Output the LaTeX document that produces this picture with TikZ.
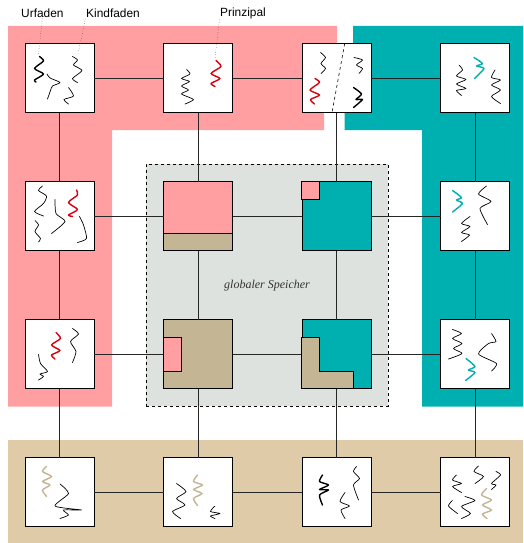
\documentclass[tikz,border=0pt]{standalone}
\usepackage{fontspec}
\setmainfont{Liberation Sans}
\newfontfamily\speicherfont{Liberation Serif}
\usetikzlibrary{matrix}

\definecolor{rosa}{HTML}{FF9FA2}
\definecolor{tuerkis}{HTML}{00B0B0}
\definecolor{sand}{HTML}{DFCBA7}
\definecolor{braun}{HTML}{C4B595}
\definecolor{hellgrau}{HTML}{DEE2DE}
\definecolor{rot}{HTML}{D8000F}

\tikzset{
  kasten/.style={draw,line width=0.9pt,rectangle,fill=white,minimum size=69pt,inner sep=0pt,outer sep=0pt},
  verbindung/.style={draw,line width=0.9pt,black!85},
  zeiger/.style={draw,dotted,line width=0.5pt,black!70},
  faden/.style={line width=0.7pt,line join=round,line cap=round},
  urfaden/.style={faden,line width=1.4pt},
  beschriftung/.style={anchor=west,font=\fontsize{11.9}{13}\selectfont,inner sep=0pt}
}
\newcommand{\faden}[2][]{\draw[faden,#1] plot [smooth,tension=.4] coordinates {#2};}

\begin{document}
\begin{tikzpicture}[x=1pt,y=-1pt]

  \useasboundingbox (0,0) rectangle (523,543);

  % Adressraeume
  \fill [rosa] (8,26) -- (337,26) -- (337,43.5) -- (324,112.5) -- (324,130) -- (112,130) -- (112,406.5) -- (8,406.5) -- cycle;
  \fill [tuerkis] (353,26) -- (523,26) -- (523,406.5) -- (422,406.5) -- (422,130) -- (344.5,130) -- (344.5,112.5) -- (353,43.5) -- cycle;
  \fill [sand] (8,440) rectangle (523,543);
  \node [draw,dashed,line width=0.8pt,rectangle,fill=hellgrau,inner sep=0pt,minimum width=242pt,minimum height=242pt] (speicher) at (267,285) {};

  \matrix [matrix of nodes,nodes={kasten},column sep=68.6pt,row sep=68.1pt] at (267.25,285.25) {
    |(f-1-1)| \phantom{x} & |(f-1-2)| \phantom{x} & |(f-1-3)| \phantom{x} & |(f-1-4)| \phantom{x} \\
    |(f-2-1)| \phantom{x} & |[fill=rosa](f-2-2)| \phantom{x} & |[fill=tuerkis](f-2-3)| \phantom{x} & |(f-2-4)| \phantom{x} \\
    |(f-3-1)| \phantom{x} & |[fill=braun](f-3-2)| \phantom{x} & |[fill=tuerkis](f-3-3)| \phantom{x} & |(f-3-4)| \phantom{x} \\
    |(f-4-1)| \phantom{x} & |(f-4-2)| \phantom{x} & |(f-4-3)| \phantom{x} & |(f-4-4)| \phantom{x} \\
  };

  \foreach \i/\j in {1/2,2/3,3/4} {
    \foreach \k in {1,2,3,4} {
      \path [verbindung] (f-\k-\i) edge (f-\k-\j);
      \path [verbindung] (f-\i-\k) edge (f-\j-\k);
    }
  }

  % Speicheraufteilung
  \draw [line width=0.9pt,fill=braun] (163.5,233.5) rectangle (232.5,250.5);
  \draw [line width=0.9pt,fill=rosa] (301.5,181.5) rectangle (319,199);
  \draw [line width=0.9pt,fill=rosa] (163.5,337) rectangle (181,371.5);
  \draw [line width=0.9pt,fill=braun] (301.5,337) -- (319,337) -- (319,371.5) -- (353.5,371.5) -- (353.5,388.5) -- (301.5,388.5) -- cycle;

  \node [font=\speicherfont\itshape\fontsize{12}{14}\selectfont,black!80] (speichertext) at (267,285.5) {globaler Speicher};

  % Beschriftung
  \node [beschriftung] (urfaden) at (21,13) {Urfaden};
  \node [beschriftung] (kindfaden) at (86,13) {Kindfaden};
  \node [beschriftung] (prinzipal) at (220,13) {Prinzipal};
  \coordinate (urfaden_ziel) at (38.5,54);
  \coordinate (kindfaden_ziel) at (78,54);
  \coordinate (prinzipal_ziel) at (215,58);
  \path [zeiger] (urfaden.south) ++(0,1) -- (urfaden_ziel);
  \path [zeiger] (kindfaden.south west) ++(-0.5,1) -- (kindfaden_ziel);
  \path [zeiger] (prinzipal.south west) ++(-0.5,1) -- (prinzipal_ziel);

  % Zeile 1
  \faden[urfaden]{(39.5,56.5) (43.5,61) (34.5,68.5) (43.5,74) (34.5,80) (36,82)}
  \faden{(47,74) (50,78) (60,82.5) (52.5,86) (50.5,90.5) (47.5,99)}
  \faden{(72.5,56.5) (77.5,60) (73.5,65) (82,70.5) (72.5,78.5) (77.5,82.5)}
  \faden{(68.5,87.5) (73.5,96) (64,99.5) (68.5,104)}

  \faden{(186.5,69.5) (190,74) (181.5,78.5) (189.5,81.5) (181.5,86) (188.5,90) (181.5,94) (193.5,99.5) (185,104)}
  \faden[urfaden,rot]{(216,60.5) (221,66.5) (211,73.5) (220,78.5) (211,83.5) (215,86.5)}

  \faden{(320.5,52.5) (325.5,57.5) (321,63.5) (325.5,68.5) (321,73.5)}
  \faden{(354,57.5) (362.5,60) (356.5,65) (362.5,68.5) (359,73.5)}
  \faden[urfaden,rot]{(315,78.5) (319.5,82.5) (310,90) (319.5,95) (310.5,99.5) (314.5,104)}
  \faden[urfaden]{(353.5,87.5) (361.5,94) (356,99.5) (362.5,99.5) (353.5,107.5)}
  \draw [dashed,line width=0.6pt] (344.7,43.5) -- (332,112.5);

  \faden{(459,65) (462.5,70) (456.5,76) (466,79.5) (456.5,84) (466,88.5) (456.5,90.5) (461.5,95.5)}
  \faden[urfaden,tuerkis]{(474,57.5) (482.5,63.5) (476.5,66) (484,68.5) (474.5,78.5)}
  \faden{(495,70) (491.5,77.5) (500.5,80) (491.5,85) (500.5,90) (491.5,96.5) (500.5,103.5)}

  % Zeile 2
  \faden{(42.5,186) (38.5,190.5) (46.5,196) (43.5,203.5) (34.5,211.5) (43.5,216)}
  \faden{(35,220.5) (38.5,225) (35,231.5) (40.5,238.5) (38.5,242)}
  \faden{(55,199.5) (56,213.5) (65,221.5) (51.5,233.5)}
  \faden{(79.5,216.5) (83.5,225) (86.5,238.5) (77.5,242.5)}
  \faden[urfaden,rot]{(76.5,190) (77.5,195) (68.5,202.5) (77.5,209.5) (68.5,215) (72.5,216.5)}

  \faden[urfaden,tuerkis]{(452.5,190.5) (461.5,197.5) (456.5,200) (462.5,203.5) (452.5,212)}
  \faden{(486.5,186) (478.5,194) (491,201.5) (480,208.5) (487.5,224.5)}
  \faden{(470,216.5) (461.5,223.5) (470,226.5) (461.5,232.5) (469.5,235) (461.5,241.5)}

  % Zeile 3
  \faden[urfaden,rot]{(56,332.5) (60.5,338.5) (51.5,345) (60,350.5) (51.5,355) (55,359)}
  \faden{(72.5,328.5) (78.5,334) (70.5,341.5) (76,351.5) (72.5,362.5)}
  \faden{(38.5,354.5) (40.5,363.5) (47.5,371.5) (40,374) (43.5,376.5) (38.5,380)}

  \faden{(452.5,329.5) (461.5,333.5) (452.5,338.5) (462,343.5) (453.5,348.5) (462,353.5) (448.5,359)}
  \faden{(491.5,333.5) (496,341.5) (488.5,343.5) (478.5,354) (496.5,363.5) (491.5,371)}
  \faden[urfaden,tuerkis]{(466,358.5) (475,366.5) (468.5,370) (475,372.5) (465.5,380.5)}

  % Zeile 4
  \faden[urfaden,braun]{(46.5,466.5) (42.5,471.5) (51.5,476.5) (42.5,481.5) (50,485) (42.5,490) (46.5,496.5)}
  \faden{(60,484) (68.5,493.5) (55,506) (81.5,510) (63.5,510) (68.5,515) (60,518.5)}

  \faden[urfaden,braun]{(197.5,475) (193.5,481.5) (202.5,485) (193.5,489.5) (202,493.5) (193.5,498.5) (197.5,505.5)}
  \faden{(176.5,483.5) (186,491.5) (176.5,498.5) (185,505) (172.5,511.5) (180.5,518.5)}
  \faden{(215,506) (210.5,511.5) (220,513.5) (210.5,516) (215,518.5)}

  \faden[urfaden]{(322.5,475) (319.5,481.5) (328.5,485) (319.5,489.5) (328.5,490) (319.5,495) (322.5,505)}
  \faden{(356.5,466.5) (353.5,471.5) (359.5,478.5) (353.5,485) (358.5,500)}
  \faden{(345,492.5) (340,501.5) (349.5,506) (341,510) (345,518.5)}

  \faden{(456.5,475) (452.5,480) (461.5,483.5) (452.5,486.5) (461.5,492.5)}
  \faden{(478.5,466) (474,471.5) (483.5,476.5) (475,483.5)}
  \faden{(496,471.5) (500.5,475) (491.5,483.5) (496,485) (491.5,489.5)}
  \faden{(452.5,500.5) (448.5,506) (457.5,513.5)}
  \faden{(465,496.5) (475,500.5) (461.5,506.5) (470.5,513.5) (461.5,518.5)}
  \faden[urfaden,braun]{(486.5,488.5) (481.5,495) (491.5,500) (482.5,505) (491.5,510) (482.5,514) (487,518.5)}

\end{tikzpicture}
\end{document}
